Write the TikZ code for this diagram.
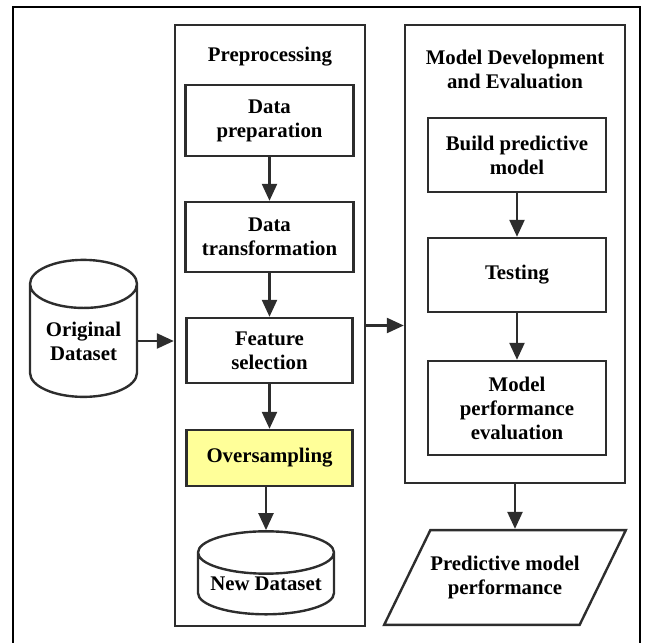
\documentclass[tikz,border=0pt]{standalone}
\usepackage{fontspec}
\setmainfont{Liberation Serif}
\usetikzlibrary{shapes.geometric,arrows.meta}

\definecolor{linegray}{RGB}{45,45,45}
\definecolor{hilite}{RGB}{255,255,153}

\begin{document}
\begin{tikzpicture}[x=0.5pt,y=-0.5pt,
  font=\fontsize{10.4}{12}\selectfont\bfseries,
  stepbox/.style={draw=linegray, line width=1.2pt, align=center, inner sep=0pt},
  groupbox/.style={draw=linegray, line width=1.2pt, inner sep=0pt},
  dbase/.style={cylinder, shape border rotate=90, draw=linegray, line width=1.2pt,
    align=center, inner sep=0pt},
  flow/.style={-{Triangle[length=8.5pt,width=7.5pt]}, draw=linegray, line width=1.2pt}]

\useasboundingbox (0,0) rectangle (645,643);
\draw[line width=1pt] (13,7) rectangle (640,660);

% input data
\node[dbase, minimum width=53.5pt, minimum height=68.5pt, aspect=0.64] (orig) at (83.5,341) {Original\\Dataset};

% preprocessing
\node[groupbox, minimum width=95pt, minimum height=300.5pt] (pre) at (270,325.5) {};
\node (pretitle) at (270,57) {Preprocessing};
\node[stepbox, minimum width=84pt, minimum height=35.5pt] (prep) at (269.5,120.5) {Data\\preparation};
\node[stepbox, minimum width=84pt, minimum height=35pt] (trans) at (269.5,237) {Data\\transformation};
\node[stepbox, minimum width=83pt, minimum height=32.5pt] (feat) at (269.5,350.5) {Feature\\selection};
\node[stepbox, fill=hilite, minimum width=83pt, minimum height=28pt] (over) at (269.5,458) {Oversampling};
\node[dbase, minimum width=68pt, minimum height=41.5pt, aspect=0.38] (newds) at (266,584) {New Dataset};

% model development
\node[groupbox, minimum width=110pt, minimum height=229pt] (dev) at (515,254) {};
\node[align=center] (devtitle) at (515,69) {Model Development\\and Evaluation};
\node[stepbox, minimum width=89pt, minimum height=37pt] (build) at (517,155) {Build predictive\\model};
\node[stepbox, minimum width=89pt, minimum height=37pt] (test) at (517,275) {Testing};
\node[stepbox, minimum width=89pt, minimum height=47pt] (perf) at (517,408) {Model\\performance\\evaluation};

% output
\node[trapezium, trapezium left angle=64, trapezium right angle=116, trapezium stretches=false,
  draw=linegray, line width=1.2pt, align=center, inner xsep=0pt, inner ysep=13pt]
  (result) at (505,577.5) {Predictive model\\performance};

\draw[flow] (orig.east) -- (orig.east -| pre.west);
\draw[flow] (prep) -- (trans);
\draw[flow] (trans) -- (feat);
\draw[flow] (feat) -- (over);
\draw[flow] (newds.north |- over.south) -- (newds.north);
\draw[flow] (pre.east) -- (pre.east -| dev.west);
\draw[flow] (build) -- (test);
\draw[flow] (test) -- (perf);
\draw[flow] (dev.south) -- (dev.south |- result.north);

\end{tikzpicture}
\end{document}
